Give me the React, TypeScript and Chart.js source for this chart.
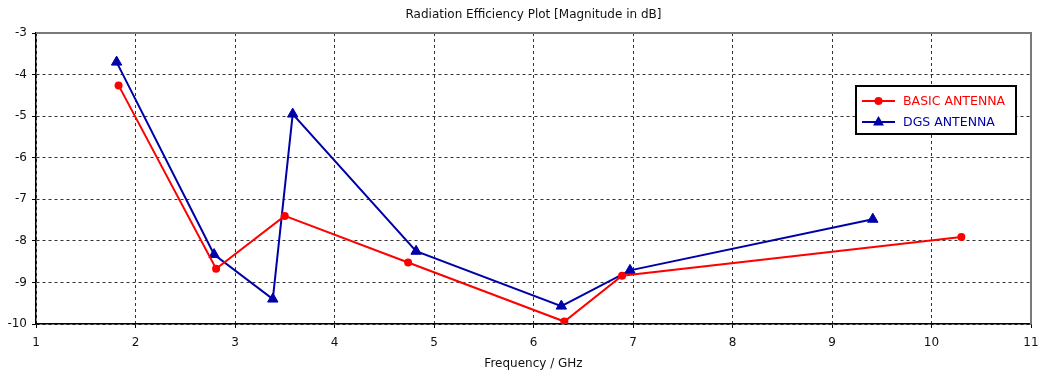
import React, { useEffect, useRef } from "react";
import { Chart, registerables } from "chart.js";

Chart.register(...registerables);

// Radiation efficiency (dB) against frequency (GHz)
const basicFreq = [1.83, 2.81, 3.5, 4.74, 6.31, 6.89, 10.3];
const basicEff = [-4.26, -8.67, -7.4, -8.52, -9.94, -8.84, -7.91];
const dgsFreq = [1.81, 2.79, 3.38, 3.58, 4.82, 6.28, 6.97, 9.41];
const dgsEff = [-3.7, -8.33, -9.4, -4.95, -8.25, -9.57, -8.71, -7.48];

const seriesNames = ["BASIC ANTENNA", "DGS ANTENNA"];
const seriesColors = ["#ff0000", "#0000a8"];
const chartTitle = "Radiation Efficiency Plot [Magnitude in dB]";
const xAxisTitle = "Frequency / GHz";
const xRange = [1, 11];
const yRange = [-10, -3];

const FONT = "'DejaVu Sans', sans-serif";

const toPoints = (xs: number[], ys: number[]) => xs.map((x, i) => ({ x, y: ys[i] }));

// Title, axis title, frame and boxed legend
const decorations = {
  id: "decorations",
  afterDraw(chart: any) {
    const { ctx, chartArea } = chart;
    const { left, right, top, bottom } = chartArea;
    ctx.save();

    // grey frame on top and right
    ctx.strokeStyle = "#7a7a7a";
    ctx.lineWidth = 2;
    ctx.beginPath();
    ctx.moveTo(left, top);
    ctx.lineTo(right, top);
    ctx.lineTo(right, bottom);
    ctx.stroke();

    ctx.fillStyle = "#111";
    ctx.font = `12px ${FONT}`;
    ctx.textAlign = "center";
    ctx.textBaseline = "middle";
    ctx.fillText(chartTitle, (left + right) / 2, 15);
    ctx.fillText(xAxisTitle, (left + right) / 2, 364);

    // legend box
    const bx = 856, by = 86, bw = 160, bh = 48;
    ctx.fillStyle = "#fff";
    ctx.fillRect(bx, by, bw, bh);
    ctx.strokeStyle = "#000";
    ctx.lineWidth = 2;
    ctx.strokeRect(bx, by, bw, bh);

    const rows = [101, 122];
    ctx.font = `12.5px ${FONT}`;
    ctx.textAlign = "left";
    seriesNames.forEach((name, i) => {
      const y = rows[i];
      const c = seriesColors[i];
      ctx.strokeStyle = c;
      ctx.fillStyle = c;
      ctx.lineWidth = 2;
      ctx.beginPath();
      ctx.moveTo(862, y);
      ctx.lineTo(895, y);
      ctx.stroke();
      const cx = 878.5;
      ctx.beginPath();
      if (i === 0) {
        ctx.arc(cx, y, 4, 0, Math.PI * 2);
      } else {
        ctx.moveTo(cx, y - 6);
        ctx.lineTo(cx + 5.5, y + 3.5);
        ctx.lineTo(cx - 5.5, y + 3.5);
        ctx.closePath();
      }
      ctx.fill();
      ctx.fillText(name, 903, y + 0.5);
    });
    ctx.restore();
  },
};

export default function App() {
  const canvasRef = useRef<HTMLCanvasElement | null>(null);

  useEffect(() => {
    if (!canvasRef.current) return;
    const chart = new Chart(canvasRef.current, {
      type: "scatter",
      data: {
        datasets: [
          {
            label: seriesNames[0],
            data: toPoints(basicFreq, basicEff),
            showLine: true,
            borderColor: seriesColors[0],
            backgroundColor: seriesColors[0],
            borderWidth: 2,
            pointStyle: "circle",
            pointRadius: 4,
            pointBorderWidth: 0,
          },
          {
            label: seriesNames[1],
            data: toPoints(dgsFreq, dgsEff),
            showLine: true,
            borderColor: seriesColors[1],
            backgroundColor: seriesColors[1],
            borderWidth: 2,
            pointStyle: "triangle",
            pointRadius: 6,
            pointBorderWidth: 1,
          },
        ],
      },
      options: {
        responsive: false,
        animation: false,
        layout: { padding: { top: 33, right: 9, left: 0, bottom: 0 } },
        plugins: {
          legend: { display: false },
          title: { display: false },
          tooltip: { enabled: false },
        },
        scales: {
          x: {
            type: "linear",
            min: xRange[0],
            max: xRange[1],
            ticks: {
              stepSize: 1,
              color: "#111",
              padding: 8,
              font: { family: FONT, size: 12 },
            },
            grid: {
              color: "#333",
              lineWidth: 1,
              tickLength: 4,
              tickColor: "#000",
            },
            border: { color: "#000", width: 1.5, dash: [3, 3] },
            afterFit: (scale: any) => {
              scale.height = 50;
              scale.paddingLeft = 0;
              scale.paddingRight = 0;
            },
          },
          y: {
            min: yRange[0],
            max: yRange[1],
            ticks: {
              stepSize: 1,
              color: "#111",
              padding: 5,
              font: { family: FONT, size: 12 },
            },
            grid: {
              color: "#333",
              lineWidth: 1,
              tickLength: 4,
              tickColor: "#000",
            },
            border: { color: "#000", width: 1.5, dash: [3, 3] },
            afterFit: (scale: any) => {
              scale.width = 36;
              scale.paddingTop = 0;
              scale.paddingBottom = 0;
            },
          },
        },
      },
      plugins: [decorations],
    });
    return () => chart.destroy();
  }, []);

  return (
    <div style={{ position: "fixed", left: 0, top: 0, width: 1040, height: 374, background: "#fff" }}>
      <canvas ref={canvasRef} width={1040} height={374} style={{ display: "block" }} />
    </div>
  );
}
